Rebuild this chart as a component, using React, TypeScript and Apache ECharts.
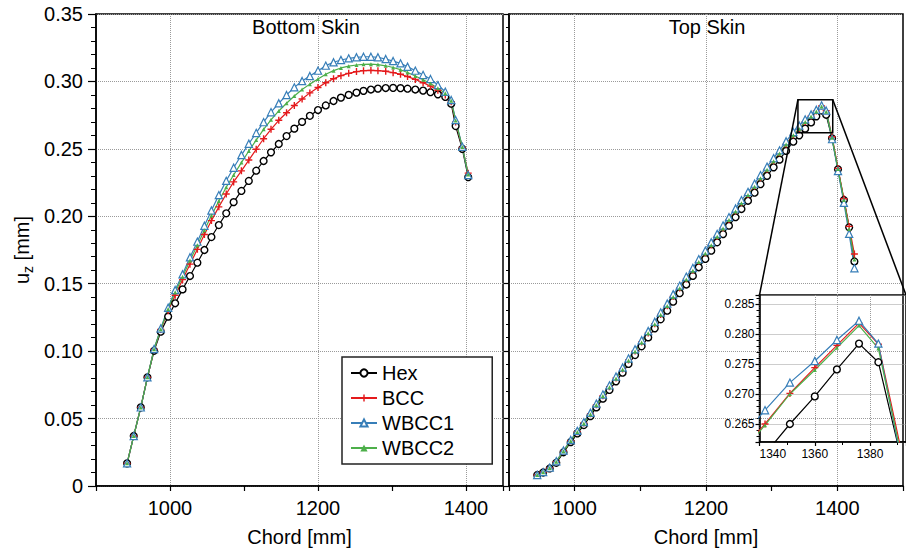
import React, { useEffect, useRef } from 'react';
import * as echarts from 'echarts';

// ---------- data ----------
const seriesNames = ['Hex', 'BCC', 'WBCC1', 'WBCC2'];

const bottomChord = [942, 951, 960.5, 969.5, 978.5, 987.5, 997.5, 1007, 1017, 1027, 1037, 1046.5, 1056, 1066, 1076, 1086, 1096.5, 1106.5, 1116.5, 1126.5, 1136.5, 1147, 1157.5, 1168, 1178.5, 1189, 1200, 1210.5, 1221, 1231, 1241.5, 1252, 1261.5, 1271.5, 1281, 1291.5, 1301.5, 1311.5, 1321, 1331.5, 1342, 1352, 1362, 1372, 1380, 1386, 1395, 1403];
const bottomHex = [0.0168, 0.0371, 0.0583, 0.0806, 0.1003, 0.1144, 0.1256, 0.1355, 0.1458, 0.1557, 0.1656, 0.1750, 0.1846, 0.1935, 0.2022, 0.2105, 0.2188, 0.2262, 0.2338, 0.2410, 0.2474, 0.2536, 0.2595, 0.2650, 0.2700, 0.2745, 0.2788, 0.2822, 0.2855, 0.2880, 0.2900, 0.2917, 0.2930, 0.2940, 0.2947, 0.2951, 0.2952, 0.2950, 0.2946, 0.2940, 0.2932, 0.2920, 0.2904, 0.2885, 0.2835, 0.2669, 0.2500, 0.2290];
const bottomBCC = [0.0168, 0.0371, 0.0583, 0.0806, 0.1012, 0.1160, 0.1300, 0.1415, 0.1530, 0.1645, 0.1755, 0.1865, 0.1968, 0.2070, 0.2165, 0.2255, 0.2337, 0.2417, 0.2497, 0.2575, 0.2645, 0.2712, 0.2768, 0.2822, 0.2870, 0.2915, 0.2955, 0.2990, 0.3020, 0.3043, 0.3060, 0.3073, 0.3080, 0.3082, 0.3080, 0.3075, 0.3065, 0.3053, 0.3036, 0.3015, 0.2990, 0.2965, 0.2935, 0.2900, 0.2850, 0.2700, 0.2510, 0.2320];
const bottomWBCC1 = [0.0168, 0.0371, 0.0583, 0.0806, 0.1016, 0.1168, 0.1322, 0.1453, 0.1570, 0.1696, 0.1812, 0.1930, 0.2043, 0.2157, 0.2263, 0.2360, 0.2454, 0.2538, 0.2618, 0.2698, 0.2772, 0.2838, 0.2899, 0.2956, 0.3003, 0.3040, 0.3080, 0.3117, 0.3142, 0.3159, 0.3171, 0.3179, 0.3183, 0.3183, 0.3179, 0.3166, 0.3151, 0.3134, 0.3109, 0.3080, 0.3048, 0.3018, 0.2973, 0.2924, 0.2862, 0.2714, 0.2516, 0.2306];
const bottomWBCC2 = [0.0168, 0.0371, 0.0583, 0.0806, 0.1014, 0.1163, 0.1312, 0.1437, 0.1552, 0.1672, 0.1785, 0.1897, 0.2005, 0.2113, 0.2215, 0.2306, 0.2398, 0.2484, 0.2565, 0.2645, 0.2715, 0.2781, 0.2838, 0.2892, 0.2940, 0.2980, 0.3018, 0.3053, 0.3080, 0.3100, 0.3113, 0.3122, 0.3127, 0.3128, 0.3125, 0.3116, 0.3103, 0.3087, 0.3066, 0.3040, 0.3012, 0.2985, 0.2950, 0.2912, 0.2856, 0.2710, 0.2513, 0.2310];

const topChord = [943, 952, 962, 972, 983, 994, 1004, 1014, 1024, 1033, 1043, 1053, 1063, 1073, 1082, 1092, 1102, 1112, 1122, 1131, 1141, 1150, 1160, 1170, 1180, 1189, 1199, 1208, 1217, 1226, 1235, 1245, 1254, 1264, 1274, 1283, 1293, 1303, 1312, 1322, 1333, 1342, 1351, 1360, 1368, 1376, 1383, 1392, 1401, 1410, 1418, 1426];
const topHex = [0.0082, 0.0100, 0.0130, 0.0172, 0.0250, 0.0325, 0.0390, 0.0452, 0.0518, 0.0583, 0.0648, 0.0712, 0.0776, 0.0840, 0.0905, 0.0971, 0.1036, 0.1102, 0.1169, 0.1236, 0.1300, 0.1367, 0.1430, 0.1494, 0.1558, 0.1622, 0.1684, 0.1745, 0.1807, 0.1868, 0.1930, 0.1993, 0.2054, 0.2115, 0.2175, 0.2238, 0.2300, 0.2363, 0.2420, 0.2485, 0.2553, 0.2600, 0.2650, 0.2696, 0.2741, 0.2784, 0.2753, 0.2578, 0.2348, 0.2121, 0.1918, 0.1665];
const topBCC = [0.0082, 0.0102, 0.0134, 0.0181, 0.0259, 0.0336, 0.0403, 0.0467, 0.0535, 0.0603, 0.0670, 0.0736, 0.0801, 0.0867, 0.0934, 0.1001, 0.1068, 0.1135, 0.1203, 0.1272, 0.1337, 0.1405, 0.1469, 0.1535, 0.1599, 0.1664, 0.1727, 0.1788, 0.1851, 0.1913, 0.1975, 0.2039, 0.2100, 0.2161, 0.2222, 0.2285, 0.2348, 0.2411, 0.2469, 0.2535, 0.2603, 0.2650, 0.2701, 0.2744, 0.2781, 0.2818, 0.2783, 0.2590, 0.2355, 0.2130, 0.1925, 0.1720];
const topWBCC1 = [0.0082, 0.0103, 0.0136, 0.0184, 0.0263, 0.0341, 0.0409, 0.0474, 0.0543, 0.0611, 0.0679, 0.0746, 0.0812, 0.0879, 0.0946, 0.1014, 0.1081, 0.1149, 0.1218, 0.1287, 0.1353, 0.1422, 0.1486, 0.1552, 0.1617, 0.1682, 0.1745, 0.1807, 0.1870, 0.1932, 0.1994, 0.2058, 0.2120, 0.2181, 0.2242, 0.2305, 0.2368, 0.2431, 0.2489, 0.2556, 0.2625, 0.2673, 0.2719, 0.2755, 0.2790, 0.2822, 0.2784, 0.2572, 0.2335, 0.2100, 0.1870, 0.1615];
const topWBCC2 = [0.0082, 0.0102, 0.0134, 0.0180, 0.0257, 0.0334, 0.0400, 0.0464, 0.0532, 0.0600, 0.0667, 0.0733, 0.0798, 0.0864, 0.0931, 0.0998, 0.1065, 0.1132, 0.1200, 0.1269, 0.1334, 0.1402, 0.1466, 0.1532, 0.1596, 0.1661, 0.1724, 0.1785, 0.1848, 0.1910, 0.1972, 0.2036, 0.2097, 0.2158, 0.2219, 0.2282, 0.2345, 0.2408, 0.2466, 0.2532, 0.2600, 0.2648, 0.2700, 0.2740, 0.2777, 0.2814, 0.2776, 0.2582, 0.2350, 0.2120, 0.1905, 0.1680];

const panelTitles = ['Bottom Skin', 'Top Skin'];
const xName = 'Chord [mm]';
const insetXRange = [1340, 1393];
const insetYRange = [0.262, 0.2865];

// ---------- styles ----------
const FONT = "'Liberation Sans', Arial, Helvetica, sans-serif";
const PLUS = 'path://M-1,-0.2H-0.2V-1H0.2V-0.2H1V0.2H0.2V1H-0.2V0.2H-1Z';
const looks: Record<string, any> = {
  Hex: { color: '#000000', symbol: 'circle', size: 6.8, fill: '#ffffff', border: 1.4 },
  BCC: { color: '#e41a1c', symbol: PLUS, size: 7, fill: '#e41a1c', border: 0 },
  WBCC1: { color: '#377eb8', symbol: 'triangle', size: 7.2, fill: '#ffffff', border: 1.2 },
  WBCC2: { color: '#4daf4a', symbol: 'triangle', size: 4, fill: '#4daf4a', border: 0 },
};

function makeSeries(name: string, xs: number[], ys: number[], idx: number) {
  const lk = looks[name];
  return {
    type: 'line',
    name,
    xAxisIndex: idx,
    yAxisIndex: idx,
    data: xs.map((x, i) => [x, ys[i]]),
    symbol: lk.symbol,
    symbolSize: lk.size,
    showAllSymbol: true,
    clip: true,
    color: lk.color,
    lineStyle: { color: lk.color, width: 1.2 },
    itemStyle: { color: lk.fill, borderColor: lk.color, borderWidth: lk.border },
    emphasis: { disabled: true },
  };
}

const gridLine = { color: '#9a9a9a', type: 'dotted', width: 1 };
const axisBlack = { color: '#000', width: 1.5 };

function mainX(idx: number, max: number) {
  return {
    gridIndex: idx, type: 'value', min: 900, max, interval: 100,
    name: xName, nameLocation: 'middle', nameGap: 41,
    nameTextStyle: { fontSize: 20, color: '#000', fontFamily: FONT },
    axisLine: { show: true, lineStyle: axisBlack },
    axisTick: { show: true, length: 5, lineStyle: { color: '#000', width: 1.2 } },
    axisLabel: {
      fontSize: 20, color: '#000', fontFamily: FONT, margin: 12,
      formatter: (v: number) => (Math.round(v) % 200 === 0 ? String(Math.round(v)) : ''),
    },
    splitLine: { show: true, lineStyle: { ...gridLine, color: ['rgba(0,0,0,0)', '#9a9a9a'] } },
  };
}

function mainY(idx: number, labels: boolean) {
  return {
    gridIndex: idx, type: 'value', min: 0, max: 0.35, interval: 0.05,
    axisLine: { show: true, lineStyle: axisBlack },
    axisTick: { show: true, length: labels ? 8 : 5, lineStyle: { color: '#000', width: 1.2 } },
    minorTick: { show: true, splitNumber: 5, length: labels ? 5 : 3, lineStyle: { color: '#000', width: 1 } },
    axisLabel: {
      show: labels, fontSize: 20, color: '#000', fontFamily: FONT, margin: 13,
      formatter: (v: number) => (Math.abs(v) < 1e-9 ? '0' : v.toFixed(2)),
    },
    splitLine: { show: true, lineStyle: gridLine },
  };
}

export default function App() {
  const ref = useRef<HTMLDivElement>(null);
  useEffect(() => {
    if (!ref.current) return;
    const chart = echarts.init(ref.current, undefined, { renderer: 'svg' });
    const series: any[] = [];
    const bottomSets = [bottomHex, bottomBCC, bottomWBCC1, bottomWBCC2];
    const topSets = [topHex, topBCC, topWBCC1, topWBCC2];
    seriesNames.forEach((n, i) => series.push(makeSeries(n, bottomChord, bottomSets[i], 0)));
    seriesNames.forEach((n, i) => series.push(makeSeries(n, topChord, topSets[i], 1)));
    seriesNames.forEach((n, i) => series.push(makeSeries(n, topChord, topSets[i], 2)));

    const option: any = {
      animation: false,
      textStyle: { fontFamily: FONT },
      grid: [
        { left: 96, top: 14, width: 407, height: 472, show: true, borderColor: '#000', borderWidth: 1.5, backgroundColor: 'transparent' },
        { left: 509, top: 14, width: 408, height: 472, show: true, borderColor: '#000', borderWidth: 1.5, backgroundColor: 'transparent' },
        { left: 759.5, top: 295, width: 151, height: 147, show: true, borderColor: '#000', borderWidth: 1.5, backgroundColor: 'transparent' },
      ],
      xAxis: [
        mainX(0, 1450),
        mainX(1, 1500),
        {
          gridIndex: 2, type: 'value', min: insetXRange[0], max: insetXRange[1], interval: 20,
          axisLine: { show: true, lineStyle: axisBlack },
          axisTick: { show: true, length: 4, lineStyle: { color: '#000', width: 1.2 } },
          minorTick: { show: true, splitNumber: 2, length: 3, lineStyle: { color: '#000', width: 1 } },
          axisLabel: {
            fontSize: 12, color: '#000', fontFamily: FONT, margin: 6, showMaxLabel: false, alignMinLabel: 'left',
            formatter: (v: number) => String(Math.round(v)),
          },
          splitLine: { show: true, lineStyle: gridLine },
        },
      ],
      yAxis: [
        mainY(0, true),
        mainY(1, false),
        {
          gridIndex: 2, type: 'value', min: insetYRange[0], max: insetYRange[1], splitNumber: 5,
          axisLine: { show: true, lineStyle: axisBlack },
          axisTick: { show: true, length: 4, lineStyle: { color: '#000', width: 1.2 } },
          minorTick: { show: true, splitNumber: 5, length: 3, lineStyle: { color: '#000', width: 1 } },
          axisLabel: {
            fontSize: 12, color: '#000', fontFamily: FONT, margin: 5, showMinLabel: false, showMaxLabel: false,
            formatter: (v: number) => v.toFixed(3),
          },
          splitLine: { show: true, lineStyle: gridLine },
        },
      ],
      legend: {
        show: true, data: seriesNames, orient: 'vertical', left: 342, top: 357,
        padding: [6, 38, 6, 8], itemGap: 5, itemWidth: 26, itemHeight: 9,
        backgroundColor: '#ffffff', borderColor: '#222', borderWidth: 1.5, borderRadius: 0,
        textStyle: { fontSize: 20, color: '#000', fontFamily: FONT },
        selectedMode: false,
      },
      series,
    };
    chart.setOption(option);

    const finder = (i: number) => ({ xAxisIndex: i, yAxisIndex: i });
    const rTL = chart.convertToPixel(finder(1), [insetXRange[0], insetYRange[1]]) as number[];
    const rBR = chart.convertToPixel(finder(1), [insetXRange[1], insetYRange[0]]) as number[];
    const rTR = chart.convertToPixel(finder(1), [insetXRange[1], insetYRange[1]]) as number[];
    const iTL = chart.convertToPixel(finder(2), [insetXRange[0], insetYRange[1]]) as number[];
    const iTR = chart.convertToPixel(finder(2), [insetXRange[1], insetYRange[1]]) as number[];
    const lineStyle = { stroke: '#000', lineWidth: 1.5 };

    chart.setOption({
      graphic: [
        { type: 'text', id: 't0', x: 306, y: 27, style: { text: panelTitles[0], font: `20px ${FONT}`, fill: '#000', align: 'center', verticalAlign: 'middle' } },
        { type: 'text', id: 't1', x: 707, y: 27, style: { text: panelTitles[1], font: `20px ${FONT}`, fill: '#000', align: 'center', verticalAlign: 'middle' } },
        {
          type: 'text', id: 'yname', x: 22, y: 250, rotation: Math.PI / 2,
          style: {
            text: '{a|u}{b|z}{a| [mm]}', align: 'center', verticalAlign: 'middle',
            rich: {
              a: { fontSize: 20, fontFamily: FONT, fill: '#000', lineHeight: 26, verticalAlign: 'middle' },
              b: { fontSize: 14, fontFamily: FONT, fill: '#000', verticalAlign: 'bottom' },
            },
          },
        },
        {
          type: 'rect', id: 'zoomRect', z: 50,
          shape: { x: rTL[0], y: rTL[1], width: rBR[0] - rTL[0], height: rBR[1] - rTL[1] },
          style: { fill: 'none', stroke: '#000', lineWidth: 1.5 },
        },
        { type: 'line', id: 'c1', z: 50, shape: { x1: rTL[0], y1: rTL[1], x2: iTL[0], y2: iTL[1] }, style: lineStyle },
        { type: 'line', id: 'c2', z: 50, shape: { x1: rTR[0], y1: rTR[1], x2: iTR[0], y2: iTR[1] }, style: lineStyle },
      ],
    });

    return () => chart.dispose();
  }, []);
  return <div ref={ref} style={{ position: 'absolute', left: 0, top: 0, width: 906, height: 553 }} />;
}
